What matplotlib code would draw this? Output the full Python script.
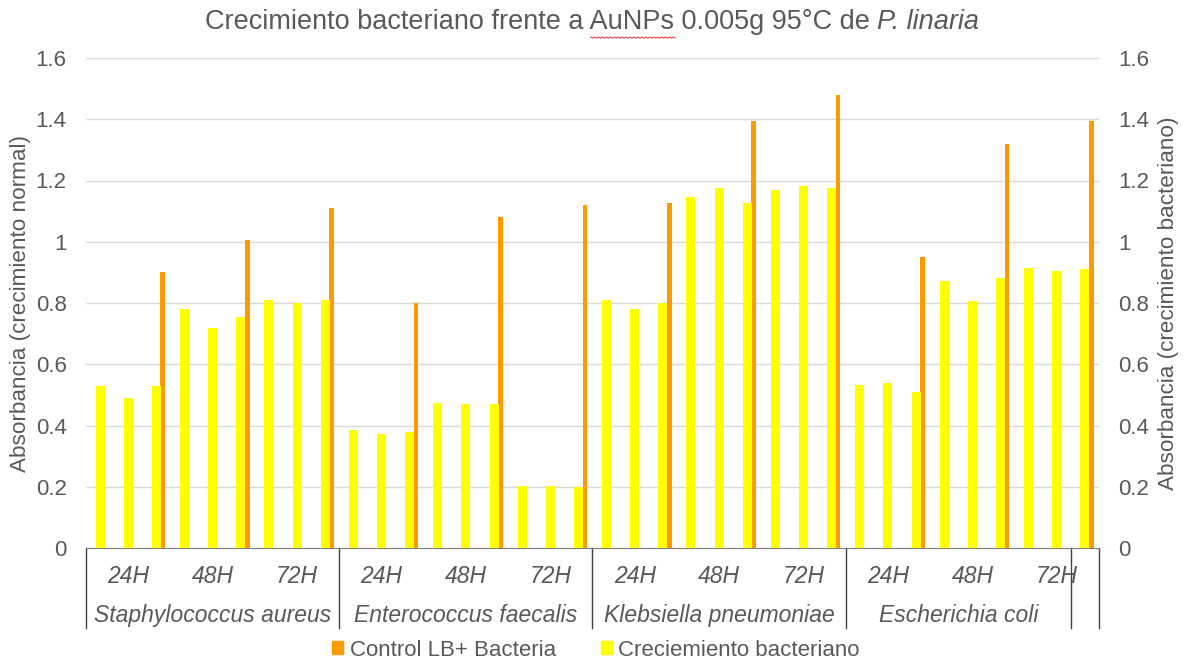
import numpy as np
import matplotlib.pyplot as plt
from matplotlib.transforms import blended_transform_factory

plt.rcParams['font.family'] = ['Liberation Sans', 'DejaVu Sans']

species = ['Staphylococcus aureus', 'Enterococcus faecalis',
           'Klebsiella pneumoniae', 'Escherichia coli']
times = ['24H', '48H', '72H']

# control LB + bacteria, one reading per species/time (third replicate slot)
control = [0.90, 1.006, 1.11,
           0.80, 1.08, 1.12,
           1.126, 1.394, 1.48,
           0.951, 1.32, 1.395]

# bacterial growth, three replicates per time point
growth = [0.53, 0.49, 0.53, 0.78, 0.72, 0.755, 0.81, 0.80, 0.81,
          0.385, 0.372, 0.379, 0.473, 0.470, 0.470, 0.202, 0.202, 0.198,
          0.81, 0.78, 0.80, 1.145, 1.174, 1.128, 1.168, 1.183, 1.174,
          0.532, 0.539, 0.509, 0.872, 0.807, 0.882, 0.914, 0.904, 0.911]

yticks = [0, 0.2, 0.4, 0.6, 0.8, 1, 1.2, 1.4, 1.6]

ORANGE = '#FF9900'
YELLOW = '#FFFF00'
GREY = '#595959'
FS = 16.5

n = len(growth)
x = np.arange(n) + 0.5
x_ctrl = x[2::3]

fig = plt.figure(figsize=(11.84, 6.62), dpi=100)
ax = fig.add_axes([86 / 1184, 1 - 548 / 662, 1013 / 1184, 490 / 662])
ax2 = ax.twinx()

ax.bar(x_ctrl + 0.23, control, width=0.165, color=ORANGE, zorder=2)
ax2.bar(x, growth, width=0.32, color=YELLOW, zorder=2)

for a in (ax, ax2):
    a.set_ylim(0, 1.6)
    a.set_yticks(yticks)
    a.set_yticklabels(['%g' % v for v in yticks])
    a.set_xlim(0, n)
    for s in a.spines.values():
        s.set_visible(False)
    a.tick_params(axis='y', length=0, labelsize=16, colors=GREY, pad=14)
    a.tick_params(axis='x', length=0, labelbottom=False)

ax.yaxis.grid(True, color='#D9D9D9', lw=1)
ax.set_axisbelow(True)
ax2.set_zorder(ax.get_zorder() + 1)
ax2.patch.set_visible(False)
ax.spines['bottom'].set_visible(True)
ax.spines['bottom'].set_color('#7F7F7F')

ax.set_ylabel('Absorbancia (crecimiento normal)', fontsize=16.2, color=GREY)
ax.yaxis.set_label_coords(-0.054, 0.5)
ax2.set_ylabel('Absorbancia (crecimiento bacteriano)', fontsize=16.2, color=GREY,
               rotation=90)
ax2.yaxis.set_label_coords(1.058, 0.5)

# two-level category axis
tr = blended_transform_factory(ax.transData, ax.transAxes)
bounds = [0, 9, 18, 27, 35, 36]
for b in bounds:
    ax.plot([b, b], [0, -0.163], transform=tr, color='#404040', lw=1, clip_on=False)
for i, sp in enumerate(species):
    lo = i * 9
    hi = lo + 8 if i == 3 else lo + 9
    ax.text((lo + hi) / 2, -0.137, sp, transform=tr, ha='center', va='center',
            fontsize=FS, style='italic', color=GREY)
    for j, t in enumerate(times):
        c = lo + 3 * j + 1.5
        ax.text(c, -0.059, t, transform=tr, ha='center', va='center',
                fontsize=FS, style='italic', color=GREY)

# title with italic species name
fig.canvas.draw()
r = fig.canvas.get_renderer()
ty = 1 - 22 / 662
TFS = 19.5
t1 = fig.text(0, ty, 'Crecimiento bacteriano frente a AuNPs 0.005g 95°C de ',
              fontsize=TFS, color=GREY, va='center')
t2 = fig.text(0, ty, 'P. linaria', fontsize=TFS, color=GREY, va='center', style='italic')
tp = fig.text(0, ty, 'Crecimiento bacteriano frente a ', fontsize=TFS, va='center')
tw = fig.text(0, ty, 'AuNPs', fontsize=TFS, va='center')
w1 = t1.get_window_extent(r).width
w2 = t2.get_window_extent(r).width
wp = tp.get_window_extent(r).width
ww = tw.get_window_extent(r).width
tp.remove()
tw.remove()
x0 = (fig.bbox.width - w1 - w2) / 2
t1.set_x(x0 / fig.bbox.width)
t2.set_x((x0 + w1) / fig.bbox.width)
# spell-check squiggle under AuNPs
zx = np.linspace(x0 + wp, x0 + wp + ww, 44)
zy = 37 + 1.2 * (np.arange(44) % 2)
fig.add_artist(plt.Line2D(zx / 1184, 1 - zy / 662, color='#E03030', lw=0.7))

# legend
handles = [plt.Rectangle((0, 0), 1, 1, color=ORANGE),
           plt.Rectangle((0, 0), 1, 1, color=YELLOW)]
fig.legend(handles, ['Control LB+ Bacteria', 'Creciemiento bacteriano'],
           loc='center', bbox_to_anchor=(596 / 1184, 1 - 650 / 662), ncol=2,
           frameon=False, fontsize=16, labelcolor=GREY, handlelength=0.5,
           handleheight=0.5, handletextpad=0.3, columnspacing=2.0,
           borderpad=0, borderaxespad=0)

fig.savefig('out.png', dpi=100)
